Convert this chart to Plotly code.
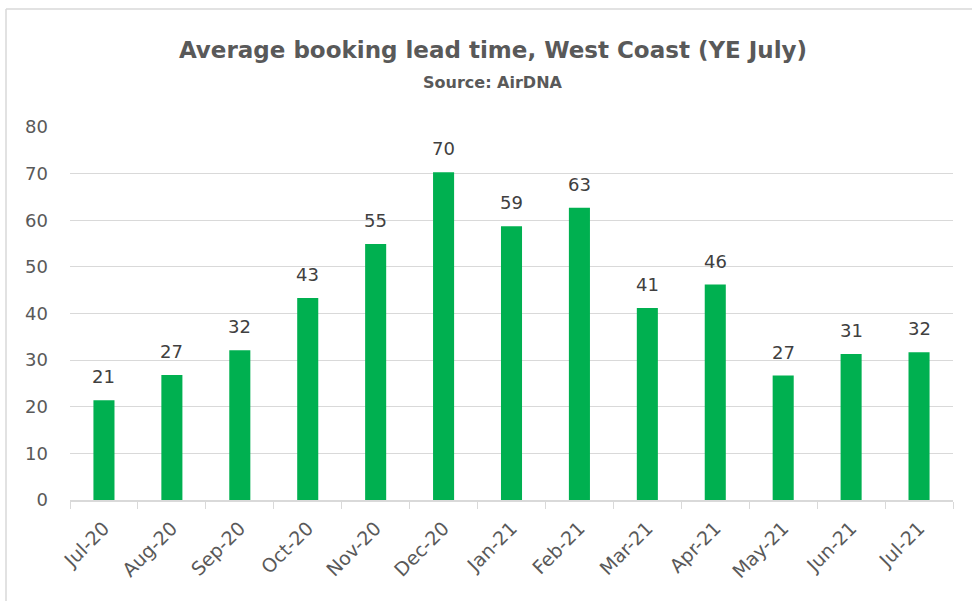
import plotly.graph_objects as go

months = ["Jul-20", "Aug-20", "Sep-20", "Oct-20", "Nov-20", "Dec-20", "Jan-21",
          "Feb-21", "Mar-21", "Apr-21", "May-21", "Jun-21", "Jul-21"]
lead_time = [21.4, 26.8, 32.1, 43.3, 54.9, 70.3, 58.7, 62.7, 41.2, 46.2, 26.7, 31.3, 31.7]
y_ticks = [0, 10, 20, 30, 40, 50, 60, 70, 80]

FONT = "'DejaVu Sans', sans-serif"
GREY = "#595959"

fig = go.Figure()
fig.add_trace(go.Bar(x=months, y=lead_time, marker_color="#00B050",
                     marker_line_width=0, hoverinfo="x+y"))

for m, v in zip(months, lead_time):
    fig.add_annotation(x=m, y=v, text=f"{v:.0f}", showarrow=False,
                       yanchor="bottom", yshift=11,
                       font=dict(family=FONT, size=18, color="#404040"))

L, R, T, B = 70, 19, 127, 101
W, H = 972, 601
pw, ph = W - L - R, H - T - B

def px(x):
    return (x - L) / pw

def py(y):
    return (H - B - y) / ph

fig.add_shape(type="line", xref="paper", yref="paper", x0=px(6), x1=px(972), y0=py(9), y1=py(9),
              line=dict(color="#d9d9d9", width=1.5))
fig.add_shape(type="line", xref="paper", yref="paper", x0=px(6), x1=px(6), y0=py(9), y1=py(601),
              line=dict(color="#d9d9d9", width=1.5))

fig.add_annotation(xref="paper", yref="paper", x=px(493), xanchor="center", y=py(83),
                   text="<b>Source: AirDNA</b>", showarrow=False, yanchor="middle",
                   font=dict(family=FONT, size=16, color=GREY))

fig.update_layout(
    width=W, height=H,
    margin=dict(l=L, r=R, t=T, b=B),
    paper_bgcolor="white", plot_bgcolor="white",
    showlegend=False,
    bargap=0.69,
    title=dict(text="<b>Average booking lead time, West Coast (YE July)</b>",
               x=493 / W, xanchor="center", y=1 - 50 / H, yanchor="middle",
               font=dict(family=FONT, size=23, color=GREY)),
    xaxis=dict(showline=True, linecolor="#d9d9d9", linewidth=1.5,
               ticks="outside", tickson="boundaries", ticklen=7, tickcolor="#d9d9d9",
               tickangle=-45, tickfont=dict(family=FONT, size=19, color=GREY),
               showgrid=False, ticklabelstandoff=8),
    yaxis=dict(range=[0, 80], tickvals=y_ticks, showgrid=True, gridcolor="#d9d9d9",
               gridwidth=1, zeroline=False, showline=False,
               tickfont=dict(family=FONT, size=18, color=GREY), ticklabelstandoff=21),
)

fig.write_html("out.html", config={"displayModeBar": False},
               post_script="document.body.style.margin='0';")
